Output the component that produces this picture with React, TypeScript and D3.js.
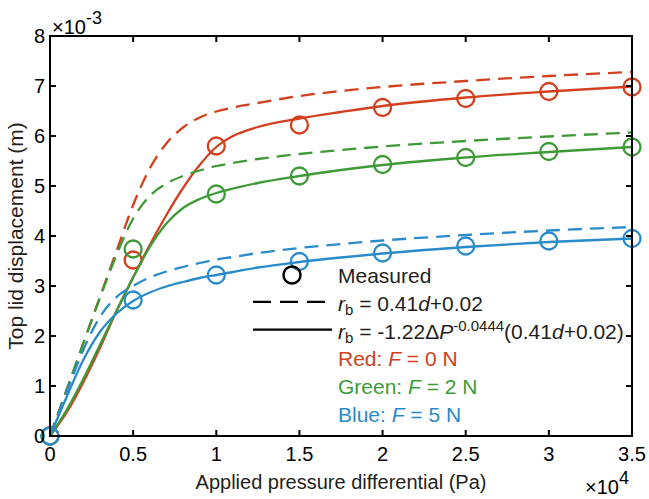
import React from "react";
import * as d3 from "d3";

const X_GRID = [0, 0.1, 0.2, 0.3, 0.4, 0.5, 0.6, 0.7, 0.8, 0.9, 1.0, 1.1, 1.25, 1.5, 1.75, 2, 2.5, 3, 3.5];

const redSolid = [0, 0.47, 1.07, 1.76, 2.5, 3.17, 3.82, 4.42, 4.96, 5.42, 5.78, 6.0, 6.18, 6.35, 6.48, 6.6, 6.77, 6.89, 6.99];
const redDashed = [0, 0.92, 1.85, 2.78, 3.7, 4.62, 5.35, 5.85, 6.17, 6.37, 6.49, 6.57, 6.66, 6.8, 6.9, 6.98, 7.1, 7.2, 7.28];
const greenSolid = [0, 0.52, 1.14, 1.82, 2.5, 3.17, 3.78, 4.25, 4.56, 4.74, 4.86, 4.95, 5.06, 5.2, 5.32, 5.42, 5.57, 5.68, 5.78];
const greenDashed = [0, 0.92, 1.85, 2.76, 3.62, 4.35, 4.8, 5.05, 5.2, 5.31, 5.4, 5.46, 5.54, 5.64, 5.72, 5.79, 5.9, 5.99, 6.07];
const blueSolid = [0, 0.78, 1.52, 2.08, 2.45, 2.7, 2.87, 2.99, 3.08, 3.16, 3.22, 3.28, 3.37, 3.48, 3.57, 3.65, 3.78, 3.88, 3.95];
const blueDashed = [0, 0.88, 1.72, 2.38, 2.78, 3.0, 3.17, 3.29, 3.38, 3.46, 3.53, 3.58, 3.66, 3.76, 3.84, 3.91, 4.02, 4.11, 4.18];

const MEAS_X = [0, 0.5, 1, 1.5, 2, 2.5, 3, 3.5];
const redMeas = [0, 3.52, 5.8, 6.22, 6.57, 6.75, 6.89, 6.98];
const greenMeas = [0, 3.74, 4.84, 5.2, 5.43, 5.57, 5.69, 5.78];
const blueMeas = [0, 2.72, 3.22, 3.49, 3.66, 3.8, 3.9, 3.95];

const X_TICKS = [0, 0.5, 1, 1.5, 2, 2.5, 3, 3.5];
const X_TICK_LABELS = ["0", "0.5", "1", "1.5", "2", "2.5", "3", "3.5"];
const Y_TICKS = [0, 1, 2, 3, 4, 5, 6, 7, 8];

const RED = "#D2401F";
const GREEN = "#3D9A36";
const BLUE = "#2A8BCB";
const TXT = "#231F20";
const FONT = "'Liberation Sans', Arial, sans-serif";

export default function App() {
  const W = 649, H = 499;
  const L = 50, R = 632, T = 36, B = 436;
  const x = d3.scaleLinear().domain([0, 3.5]).range([L, R]);
  const y = d3.scaleLinear().domain([0, 8]).range([B, T]);
  const line = d3
    .line<[number, number]>()
    .x((d) => x(d[0]))
    .y((d) => y(d[1]))
    .curve(d3.curveMonotoneX);
  const pts = (ys: number[]) => X_GRID.map((v, i) => [v, ys[i]] as [number, number]);

  const series = [
    { c: RED, s: redSolid, d: redDashed, m: redMeas },
    { c: GREEN, s: greenSolid, d: greenDashed, m: greenMeas },
    { c: BLUE, s: blueSolid, d: blueDashed, m: blueMeas },
  ];

  const tickLen = 6;
  const legX = 338;
  const base0 = 283;
  const step = 27.8;
  const LF = 21;

  return (
    <svg
      width={W}
      height={H}
      style={{ position: "absolute", left: 0, top: 0, background: "#fff" }}
      fontFamily={FONT}
    >
      <rect width={W} height={H} fill="#fff" />
      {series.map((s, i) => (
        <g key={i}>
          <path d={line(pts(s.d)) || ""} fill="none" stroke={s.c} strokeWidth={2.3} strokeDasharray="14 8" />
          <path d={line(pts(s.s)) || ""} fill="none" stroke={s.c} strokeWidth={2.3} />
          {MEAS_X.map((v, j) => (
            <circle key={j} cx={x(v)} cy={y(s.m[j])} r={8.5} fill="none" stroke={s.c} strokeWidth={2.3} />
          ))}
        </g>
      ))}
      <rect x={L} y={T} width={R - L} height={B - T} fill="none" stroke="#000" strokeWidth={2} />
      {X_TICKS.map((v, i) => (
        <g key={"xt" + i}>
          <line x1={x(v)} x2={x(v)} y1={B} y2={B - tickLen} stroke="#000" strokeWidth={2} />
          <line x1={x(v)} x2={x(v)} y1={T} y2={T + tickLen} stroke="#000" strokeWidth={2} />
          <text x={x(v)} y={B + 25} fontSize={20} textAnchor="middle" fill="#000">
            {X_TICK_LABELS[i]}
          </text>
        </g>
      ))}
      {Y_TICKS.map((v, i) => (
        <g key={"yt" + i}>
          <line x1={L} x2={L + tickLen} y1={y(v)} y2={y(v)} stroke="#000" strokeWidth={2} />
          <line x1={R} x2={R - tickLen} y1={y(v)} y2={y(v)} stroke="#000" strokeWidth={2} />
          <text x={L - 5} y={y(v) + 7} fontSize={20} textAnchor="end" fill="#000">
            {String(v)}
          </text>
        </g>
      ))}
      <text x={52} y={34} fontSize={20} fill="#000">
        ×10<tspan dy={-10} fontSize={18}>-3</tspan>
      </text>
      <text x={585} y={494} fontSize={20} fill="#000">
        ×10<tspan dy={-10} fontSize={18}>4</tspan>
      </text>
      <text x={(L + R) / 2} y={489} fontSize={20} textAnchor="middle" fill={TXT}>
        Applied pressure differential (Pa)
      </text>
      <text
        transform={`translate(23,${(T + B) / 2}) rotate(-90)`}
        fontSize={21}
        textAnchor="middle"
        fill={TXT}
      >
        Top lid displacement (m)
      </text>
      <circle cx={292} cy={base0 - 8} r={8.5} fill="none" stroke="#000" strokeWidth={2.5} />
      <text x={legX} y={base0} fontSize={LF} fill={TXT}>Measured</text>
      <line x1={253} x2={332} y1={base0 + step - 9} y2={base0 + step - 9} stroke="#000" strokeWidth={2.3} strokeDasharray="18 9" />
      <text x={legX} y={base0 + step} fontSize={LF} fill={TXT}>
        <tspan fontStyle="italic">r</tspan>
        <tspan fontSize={15} dy={4}>b</tspan>
        <tspan dy={-4}> = 0.41</tspan>
        <tspan fontStyle="italic">d</tspan>
        <tspan>+0.02</tspan>
      </text>
      <line x1={253} x2={332} y1={base0 + 2 * step - 9} y2={base0 + 2 * step - 9} stroke="#000" strokeWidth={2.3} />
      <text x={legX} y={base0 + 2 * step} fontSize={LF} fill={TXT}>
        <tspan fontStyle="italic">r</tspan>
        <tspan fontSize={15} dy={4}>b</tspan>
        <tspan dy={-4}> = -1.22Δ</tspan>
        <tspan fontStyle="italic">P</tspan>
        <tspan fontSize={15} dy={-8}>-0.0444</tspan>
        <tspan dy={8}>(0.41</tspan>
        <tspan fontStyle="italic">d</tspan>
        <tspan>+0.02)</tspan>
      </text>
      <text x={legX} y={base0 + 3 * step} fontSize={LF} fill={RED}>
        Red: <tspan fontStyle="italic">F</tspan> = 0 N
      </text>
      <text x={legX} y={base0 + 4 * step} fontSize={LF} fill={GREEN}>
        Green: <tspan fontStyle="italic">F</tspan> = 2 N
      </text>
      <text x={legX} y={base0 + 5 * step} fontSize={LF} fill={BLUE}>
        Blue: <tspan fontStyle="italic">F</tspan> = 5 N
      </text>
    </svg>
  );
}
